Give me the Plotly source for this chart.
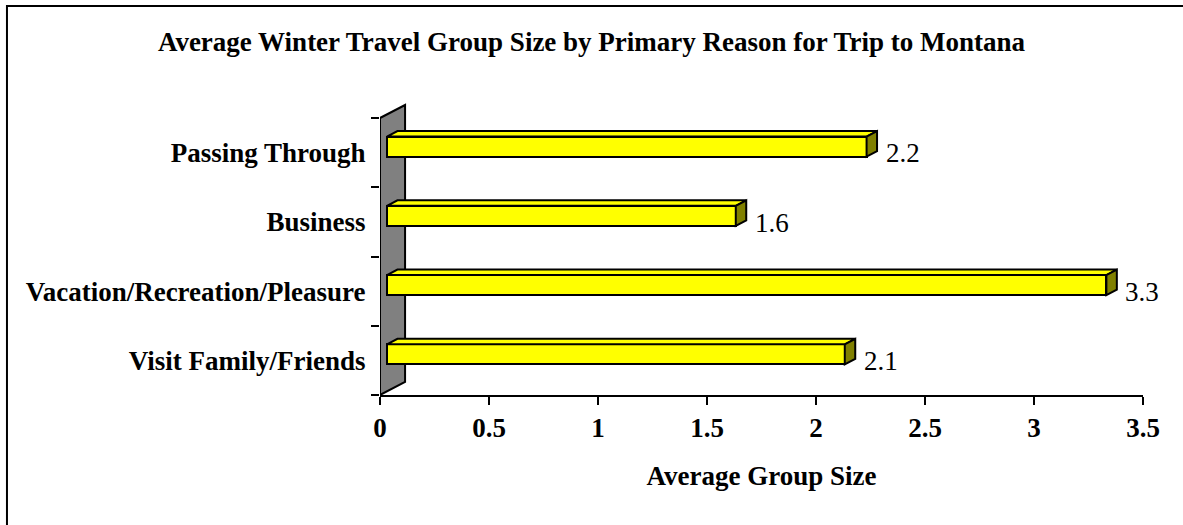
import plotly.graph_objects as go

# Data
categories = ["Visit Family/Friends", "Vacation/Recreation/Pleasure", "Business", "Passing Through"]
values = [2.1, 3.3, 1.6, 2.2]
x_ticks = [0, 0.5, 1, 1.5, 2, 2.5, 3, 3.5]
x_tick_labels = ["0", "0.5", "1", "1.5", "2", "2.5", "3", "3.5"]

# Styling / pseudo-3D geometry (in axis units)
FONT = "Liberation Serif, Times New Roman, serif"
YELLOW = "#FFFF00"
OLIVE = "#808000"
WALL = "#808080"
BAR_BASE = 0.032        # bars sit slightly inside the depth of the wall
BAR_SHIFT = 0.087       # vertical shift of bar front face from category centre
BAR_THICK = 0.289
BAR_DX, BAR_DY = 0.048, 0.08
WALL_DX, WALL_DY = 0.115, 0.188
Y_MIN, Y_MAX = -0.5, 3.76
FS = 27

pos = list(range(len(categories)))
bar_y = [p + BAR_SHIFT for p in pos]

fig = go.Figure()

# Front faces of bars
fig.add_trace(go.Bar(
    x=values, y=bar_y, base=BAR_BASE, orientation="h", width=BAR_THICK,
    marker=dict(color=YELLOW, line=dict(color="black", width=2)),
    hoverinfo="skip", showlegend=False,
))

# Top and side faces
top_x, top_y, side_x, side_y = [], [], [], []
for v, yc in zip(values, bar_y):
    t = yc + BAR_THICK / 2
    b = yc - BAR_THICK / 2
    x0 = BAR_BASE
    x1 = BAR_BASE + v
    top_x += [x0, x0 + BAR_DX, x1 + BAR_DX, x1, x0, None]
    top_y += [t, t + BAR_DY, t + BAR_DY, t, t, None]
    side_x += [x1, x1 + BAR_DX, x1 + BAR_DX, x1, x1, None]
    side_y += [t, t + BAR_DY, b + BAR_DY, b, t, None]

fig.add_trace(go.Scatter(x=top_x, y=top_y, mode="lines", fill="toself",
                         fillcolor=YELLOW, line=dict(color="black", width=2),
                         hoverinfo="skip", showlegend=False))
fig.add_trace(go.Scatter(x=side_x, y=side_y, mode="lines", fill="toself",
                         fillcolor=OLIVE, line=dict(color="black", width=2),
                         hoverinfo="skip", showlegend=False))

# Boundary ticks on the category axis (overlay axis)
fig.add_trace(go.Scatter(x=[None], y=[None], yaxis="y2", showlegend=False, hoverinfo="skip"))

# Side wall behind the bars
wall_path = (f"M 0 {Y_MIN} L {WALL_DX} {Y_MIN + WALL_DY} "
             f"L {WALL_DX} {3.5 + WALL_DY} L 0 3.5 Z")
fig.add_shape(type="path", path=wall_path, xref="x", yref="y", layer="below",
              fillcolor=WALL, line=dict(color="black", width=2))

# Value labels
for v, p in zip(values, pos):
    fig.add_annotation(x=v, y=p - 0.01, xref="x", yref="y", text=f"{v}",
                       showarrow=False, xanchor="left", xshift=24,
                       font=dict(family=FONT, size=FS, color="black"))

# Outer chart border
fig.add_shape(type="rect", xref="paper", yref="paper",
              x0=-0.4889, x1=1.2, y0=-0.6, y1=1.3186,
              line=dict(color="black", width=2), fillcolor="rgba(0,0,0,0)")

fig.update_layout(
    width=1183, height=525,
    margin=dict(l=380, r=40, t=100, b=130),
    paper_bgcolor="white", plot_bgcolor="white",
    bargap=0,
    title=dict(text="Average Winter Travel Group Size by Primary Reason for Trip to Montana",
               x=0.5, xanchor="center", y=1 - 42 / 525, yanchor="middle",
               font=dict(family=FONT, size=FS, color="black", weight="bold")),
    xaxis=dict(range=[0, 3.5], tickvals=x_ticks, ticktext=x_tick_labels,
               showline=True, linecolor="black", linewidth=2,
               ticks="outside", ticklen=8, tickwidth=2, tickcolor="black",
               showgrid=False, zeroline=False,
               tickfont=dict(family=FONT, size=FS, color="black", weight="bold"),
               title=dict(text="Average Group Size", standoff=24,
                          font=dict(family=FONT, size=FS, color="black", weight="bold"))),
    yaxis=dict(range=[Y_MIN, Y_MAX], tickvals=pos, ticktext=categories,
               showline=False, showgrid=False, zeroline=False,
               ticks="outside", ticklen=8, tickcolor="rgba(0,0,0,0)",
               tickfont=dict(family=FONT, size=FS, color="black", weight="bold")),
    yaxis2=dict(range=[Y_MIN, Y_MAX], overlaying="y", side="left",
                tickvals=[-0.5, 0.5, 1.5, 2.5, 3.5], showticklabels=False,
                ticks="outside", ticklen=8, tickwidth=2, tickcolor="black",
                showline=False, showgrid=False, zeroline=False),
)

fig.write_html("out.html")
